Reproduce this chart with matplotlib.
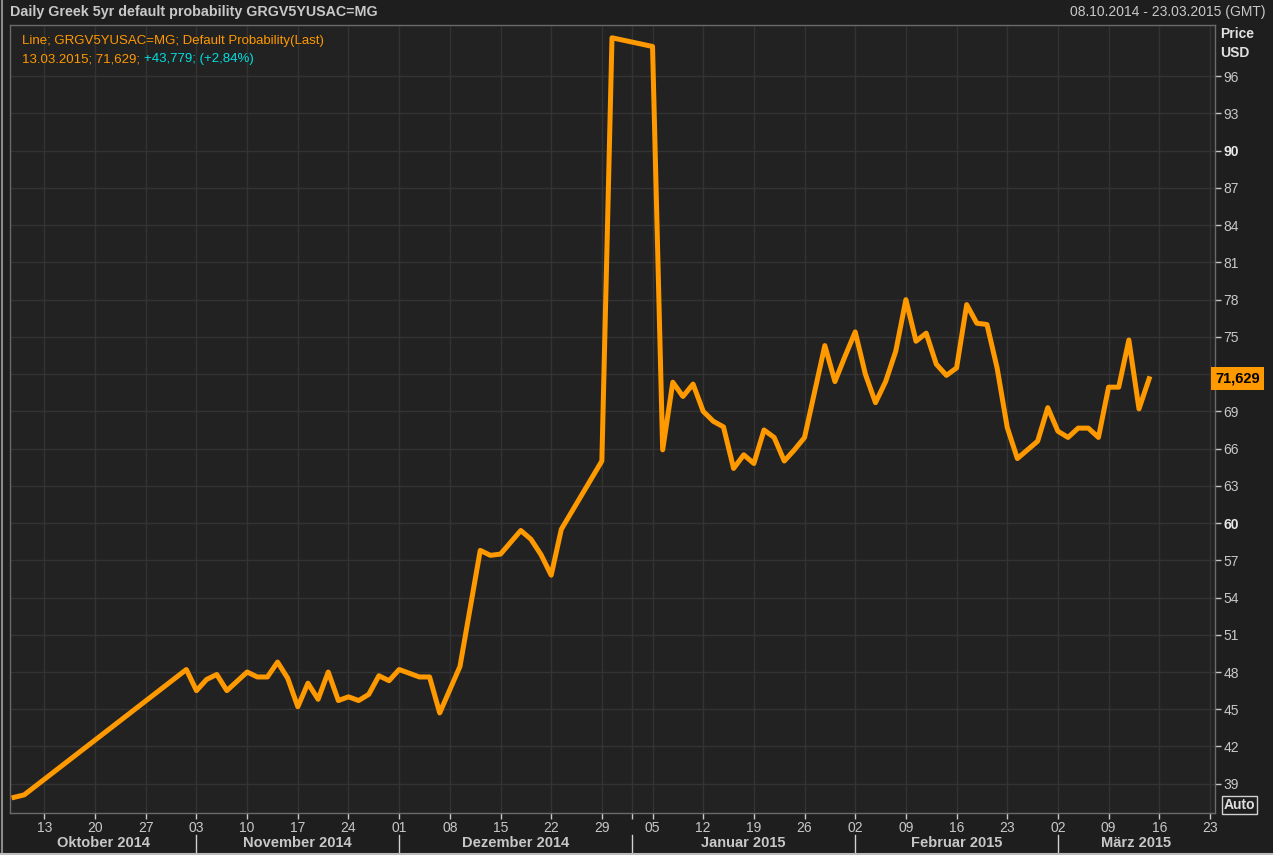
import numpy as np
import pandas as pd
import matplotlib
matplotlib.use('Agg')
import matplotlib.pyplot as plt
import matplotlib.transforms as mtransforms
from matplotlib.lines import Line2D

# daily closes (gaps = no quote that day)
dates = ['2014-10-08', '2014-10-09', '2014-10-31',
         '2014-11-03', '2014-11-04', '2014-11-05', '2014-11-06', '2014-11-10',
         '2014-11-11', '2014-11-12', '2014-11-13', '2014-11-14', '2014-11-17',
         '2014-11-18', '2014-11-19', '2014-11-20', '2014-11-21', '2014-11-24',
         '2014-11-25', '2014-11-26', '2014-11-27', '2014-11-28',
         '2014-12-01', '2014-12-02', '2014-12-03', '2014-12-04', '2014-12-05',
         '2014-12-09', '2014-12-11', '2014-12-12', '2014-12-15', '2014-12-17',
         '2014-12-18', '2014-12-19', '2014-12-22', '2014-12-23', '2014-12-29',
         '2014-12-30',
         '2015-01-05', '2015-01-06', '2015-01-07', '2015-01-08', '2015-01-09',
         '2015-01-12', '2015-01-13', '2015-01-14', '2015-01-15', '2015-01-16',
         '2015-01-19', '2015-01-20', '2015-01-21', '2015-01-22', '2015-01-23',
         '2015-01-26', '2015-01-28', '2015-01-29', '2015-01-30',
         '2015-02-02', '2015-02-03', '2015-02-04', '2015-02-05', '2015-02-06',
         '2015-02-09', '2015-02-10', '2015-02-11', '2015-02-12', '2015-02-13',
         '2015-02-16', '2015-02-17', '2015-02-18', '2015-02-19', '2015-02-20',
         '2015-02-23', '2015-02-24', '2015-02-26', '2015-02-27',
         '2015-03-02', '2015-03-03', '2015-03-04', '2015-03-05', '2015-03-06',
         '2015-03-09', '2015-03-10', '2015-03-11', '2015-03-12', '2015-03-13']
values = [37.9, 38.1, 48.2,
          46.5, 47.4, 47.8, 46.5, 48.0,
          47.6, 47.6, 48.8, 47.5, 45.2,
          47.1, 45.8, 48.0, 45.7, 46.0,
          45.7, 46.2, 47.7, 47.3,
          48.2, 47.9, 47.6, 47.6, 44.7,
          48.45, 57.8, 57.4, 57.5, 59.4,
          58.7, 57.45, 55.8, 59.5, 65.0,
          99.1,
          98.4, 65.9, 71.35, 70.2, 71.2,
          69.0, 68.2, 67.75, 64.4, 65.5,
          64.8, 67.5, 66.9, 65.0, 65.9,
          66.9, 74.3, 71.4, 73.45,
          75.4, 72.0, 69.7, 71.4, 73.85,
          78.0, 74.65, 75.3, 72.8, 71.9,
          72.5, 77.6, 76.1, 76.0, 72.5,
          67.7, 65.2, 66.6, 69.3,
          67.4, 66.9, 67.65, 67.65, 66.9,
          70.95, 70.95, 74.75, 69.2, 71.629]

last_value = 71.629
month_names = ['Oktober 2014', 'November 2014', 'Dezember 2014',
               'Januar 2015', 'Februar 2015', 'März 2015']
month_starts = ['2014-11-03', '2014-12-01', '2015-01-01', '2015-02-02', '2015-03-02']
y_ticks = list(range(39, 97, 3))

BASE = '2014-10-13'
FIG_BG = '#1e1e1e'
AX_BG = '#222222'
GRID = '#333333'
SPINE = '#6a6a6a'
TXT = '#c8c8c8'
ORANGE = '#ff9900'
CYAN = '#00e0e0'
FONT = 'Liberation Sans'


def bday(d):
    # trading-day axis: weekends are skipped like in the Eikon chart
    return np.busday_count(BASE, d)


W, H = 1273, 855
fig = plt.figure(figsize=(W / 100, H / 100), dpi=100, facecolor=FIG_BG)
ax = fig.add_axes([10 / W, 1 - 813 / H, (1215 - 10) / W, (813 - 25) / H])
ax.set_facecolor(AX_BG)

x = [bday(d) for d in dates]
ax.plot(x, values, color=ORANGE, lw=3.6, solid_joinstyle='round', zorder=3)

ax.set_xlim(-3.4, 115.5)
ax.set_ylim(36.64, 100.13)

# weekly ticks on mondays
mondays = pd.date_range('2014-10-13', '2015-03-23', freq='W-MON')
ax.set_xticks([bday(m.strftime('%Y-%m-%d')) for m in mondays])
ax.set_xticklabels([m.strftime('%d') for m in mondays])
ax.set_xticks([bday('2015-01-01')], minor=True)
ax.tick_params(axis='x', which='both', direction='out', length=4, width=1,
               color=TXT, labelcolor=TXT, labelsize=10, pad=2)
for lbl in ax.get_xticklabels():
    lbl.set_fontfamily(FONT)

# price scale on the right; the label next to the last value is covered by its box
ax.yaxis.tick_right()
ax.set_yticks(y_ticks)
ax.set_yticklabels(['' if abs(v - last_value) < 1.5 else str(v) for v in y_ticks])
ax.tick_params(axis='y', direction='out', length=4, width=1, color=TXT,
               labelcolor=TXT, labelsize=10, pad=2)
for lbl, v in zip(ax.get_yticklabels(), y_ticks):
    lbl.set_fontfamily(FONT)
    if v % 30 == 0:
        lbl.set_fontweight('bold')
        lbl.set_color('#e8e8e8')

ax.grid(True, which='both', color=GRID, lw=1)
ax.set_axisbelow(True)
for s in ax.spines.values():
    s.set_color(SPINE)
    s.set_linewidth(1)

# month separators and names under the day ticks
trans = mtransforms.blended_transform_factory(ax.transData, ax.transAxes)
edges = [ax.get_xlim()[0]] + [bday(m) for m in month_starts] + [ax.get_xlim()[1]]
for m in month_starts:
    ax.plot([bday(m)] * 2, [-0.028, -0.049], color='#d0d0d0', lw=1,
            transform=trans, clip_on=False)
for name, a, b in zip(month_names, edges[:-1], edges[1:]):
    ax.text((a + b) / 2, -0.038, name, transform=trans, ha='center', va='center',
            fontsize=10.5, fontweight='bold', color=TXT, family=FONT)

# header
fig.text(10 / W, 1 - 12 / H, 'Daily Greek 5yr default probability GRGV5YUSAC=MG',
         fontsize=10.3, fontweight='bold', color=TXT, va='center', family=FONT)
fig.text(1266 / W, 1 - 12 / H, '08.10.2014 - 23.03.2015 (GMT)', fontsize=10,
         color=TXT, va='center', ha='right', family=FONT)
fig.text(1220 / W, 1 - 34 / H, 'Price', fontsize=10, fontweight='bold',
         color='#e0e0e0', va='center', family=FONT)
fig.text(1220 / W, 1 - 53 / H, 'USD', fontsize=10, fontweight='bold',
         color='#e0e0e0', va='center', family=FONT)

# legend lines
fig.text(22 / W, 1 - 41 / H, 'Line; GRGV5YUSAC=MG; Default Probability(Last)',
         fontsize=9.5, color=ORANGE, va='center', family=FONT)
t1 = fig.text(22 / W, 1 - 59 / H, '13.03.2015; 71,629; ', fontsize=9.5,
              color=ORANGE, va='center', family=FONT)
ax.annotate('+43,779; (+2,84%)', xy=(1, 0), xycoords=t1, va='bottom',
            fontsize=9.5, color=CYAN, family=FONT, annotation_clip=False)

# last value marker on the price scale
ty = mtransforms.blended_transform_factory(ax.transAxes, ax.transData)
ax.text(1.0, last_value, '71,629', transform=ty, ha='left', va='center',
        fontsize=10.5, fontweight='bold', color='black', family=FONT,
        bbox=dict(boxstyle='square,pad=0.3', fc=ORANGE, ec='none'), clip_on=False)

fig.text(1224 / W, 1 - 805 / H, 'Auto', fontsize=10, fontweight='bold',
         color='#e0e0e0', va='center', family=FONT,
         bbox=dict(boxstyle='square,pad=0.12', fc='none', ec='#d0d0d0', lw=1))

# window frame
fig.add_artist(Line2D([1.5 / W] * 2, [0, 1], color='#8a8a8a', lw=1.5))
fig.add_artist(Line2D([0, 1], [1.5 / H] * 2, color='#bdbdbd', lw=1.5))

fig.savefig('out.png', dpi=100, facecolor=FIG_BG)
